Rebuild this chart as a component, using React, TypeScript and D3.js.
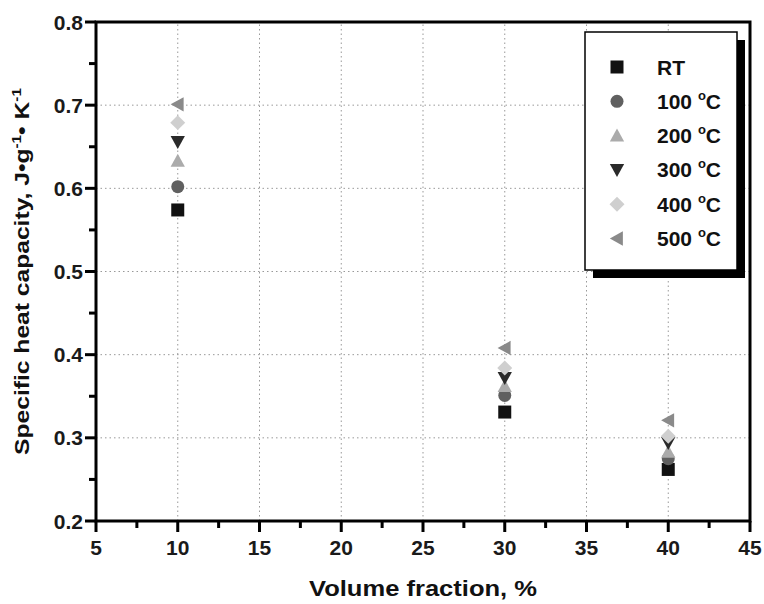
import React, { useEffect, useRef } from "react";
import * as d3 from "d3";

const xValues = [10, 30, 40];
const seriesNames = ["RT", "100", "200", "300", "400", "500"];
const rtValues = [0.574, 0.331, 0.262];
const t100Values = [0.602, 0.351, 0.275];
const t200Values = [0.633, 0.362, 0.283];
const t300Values = [0.656, 0.372, 0.294];
const t400Values = [0.679, 0.384, 0.302];
const t500Values = [0.701, 0.408, 0.321];
const xTicks = [5, 10, 15, 20, 25, 30, 35, 40, 45];
const xMinorTicks = [7.5, 12.5, 17.5, 22.5, 27.5, 32.5, 37.5, 42.5];
const yTicks = [0.2, 0.3, 0.4, 0.5, 0.6, 0.7, 0.8];
const yMinorTicks = [0.25, 0.35, 0.45, 0.55, 0.65, 0.75];

const allValues = [rtValues, t100Values, t200Values, t300Values, t400Values, t500Values];
const colors = ["#111111", "#606060", "#ababab", "#2a2a2a", "#cfcfcf", "#8a8a8a"];

const W = 764, H = 604;
const M = { left: 96, right: 14, top: 22, bottom: 83 };
const font = "'Liberation Sans', Arial, sans-serif";

function markerPath(i: number, s: number): string {
  const h = s / 2;
  switch (i) {
    case 0: return `M${-h},${-h}H${h}V${h}H${-h}Z`;
    case 1: return d3.symbol(d3.symbolCircle, Math.PI * h * h * 1.0)() as string;
    case 2: return `M0,${-h * 1.1}L${h * 1.1},${h * 0.9}L${-h * 1.1},${h * 0.9}Z`;
    case 3: return `M0,${h * 1.1}L${h * 1.1},${-h * 0.9}L${-h * 1.1},${-h * 0.9}Z`;
    case 4: return `M0,${-h * 1.15}L${h * 1.15},0L0,${h * 1.15}L${-h * 1.15},0Z`;
    default: return `M${-h * 1.1},0L${h * 0.9},${-h * 1.1}L${h * 0.9},${h * 1.1}Z`;
  }
}

export default function App() {
  const x = d3.scaleLinear().domain([5, 45]).range([M.left, W - M.right]);
  const y = d3.scaleLinear().domain([0.2, 0.8]).range([H - M.bottom, M.top]);
  const fmtY = d3.format(".1f");
  const y0 = y(0.2), x0 = x(5);
  const cy = (y(0.2) + y(0.8)) / 2;
  const lx = 585, ly = 32, lw = 152, lh = 238;
  const textStyle = { fontFamily: font, fontSize: "21px", fontWeight: "bold" as const };
  const ytRef = useRef<SVGTextElement>(null);

  useEffect(() => {
    const yt = ytRef.current;
    if (yt) {
      const w = yt.getComputedTextLength() || 367;
      yt.setAttribute("transform", `translate(29,${cy}) rotate(-90) scale(${367 / w},1)`);
    }
  }, []);

  return (
    <div style={{ position: "absolute", left: 0, top: 0 }}>
      <svg width={W} height={H} style={{ display: "block", background: "#fff" }}>
        <g>
          {xTicks.slice(1, -1).map((t) => (
            <line key={"gx" + t} x1={x(t)} x2={x(t)} y1={y(0.2)} y2={y(0.8)} stroke="#999" strokeWidth={1} strokeDasharray="1.5,3" />
          ))}
          {yTicks.slice(1, -1).map((t) => (
            <line key={"gy" + t} y1={y(t)} y2={y(t)} x1={x(5)} x2={x(45)} stroke="#999" strokeWidth={1} strokeDasharray="1.5,3" />
          ))}
        </g>
        <g fill="#000">
          {xTicks.map((t) => <rect key={"tx" + t} x={x(t) - 1.5} y={y0} width={3} height={11} />)}
          {xMinorTicks.map((t) => <rect key={"mx" + t} x={x(t) - 1.5} y={y0} width={3} height={7} />)}
          {yTicks.map((t) => <rect key={"ty" + t} x={x0 - 11} y={y(t) - 1.5} width={11} height={3} />)}
          {yMinorTicks.map((t) => <rect key={"my" + t} x={x0 - 7} y={y(t) - 1.5} width={7} height={3} />)}
        </g>
        <g fill="#1a1a1a" style={textStyle}>
          {xTicks.map((t) => <text key={"lx" + t} x={x(t)} y={y0 + 34} textAnchor="middle">{String(t)}</text>)}
          {yTicks.map((t) => <text key={"ly" + t} x={x0 - 13} y={y(t) + 7.5} textAnchor="end">{fmtY(t)}</text>)}
        </g>
        <rect x={x(5)} y={y(0.8)} width={x(45) - x(5)} height={y(0.2) - y(0.8)} fill="none" stroke="#000" strokeWidth={3} />
        {allValues.map((vals, i) =>
          vals.map((v, j) => (
            <path key={`p${i}-${j}`} d={markerPath(i, 13)} transform={`translate(${x(xValues[j])},${y(v)})`} fill={colors[i]} />
          ))
        )}
        <rect x={lx + 8} y={ly + 8} width={lw} height={lh} fill="#000" />
        <rect x={lx} y={ly} width={lw} height={lh} fill="#fff" stroke="#000" strokeWidth={1.5} />
        {seriesNames.map((n, i) => {
          const yy = 67 + i * 34.3;
          return (
            <g key={"lg" + n}>
              <path d={markerPath(i, 13)} transform={`translate(617,${yy})`} fill={colors[i]} />
              <text x={657} y={yy + 7.5} fill="#111" style={textStyle}>
                {i === 0 ? "RT" : (
                  <>
                    <tspan>{n + " "}</tspan>
                    <tspan dy={-9} style={{ fontSize: "13px" }}>o</tspan>
                    <tspan dy={9}>C</tspan>
                  </>
                )}
              </text>
            </g>
          );
        })}
        <text x={423} y={596} textAnchor="middle" fill="#111" textLength={228} lengthAdjust="spacingAndGlyphs"
          style={{ fontFamily: font, fontSize: "22px", fontWeight: "bold" }}>Volume fraction, %</text>
        <text ref={ytRef} textAnchor="middle" fill="#111" transform={`translate(29,${cy}) rotate(-90)`} style={textStyle}>
          <tspan>{"Specific heat capacity, J\u2022g"}</tspan>
          <tspan dy={-8} style={{ fontSize: "13px" }}>-1</tspan>
          <tspan dy={8}>{"\u2022 K"}</tspan>
          <tspan dy={-8} style={{ fontSize: "13px" }}>-1</tspan>
        </text>
      </svg>
    </div>
  );
}
